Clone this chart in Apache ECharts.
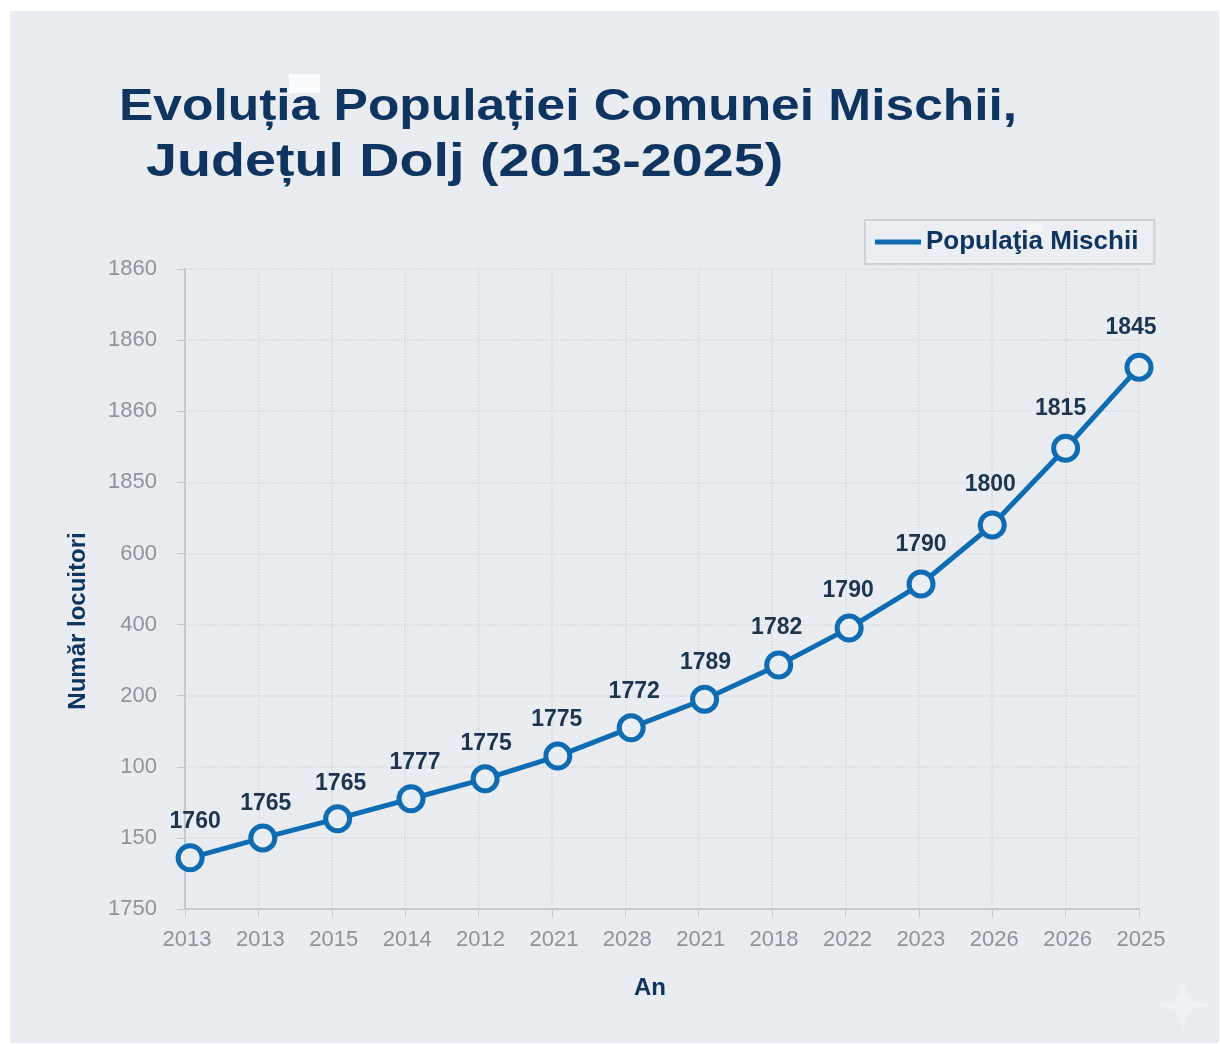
<!DOCTYPE html>
<html>
<head>
<meta charset="utf-8">
<style>html,body{margin:0;padding:0;background:#fff}#c{width:1220px;height:1044px}</style>
<script src="https://cdn.jsdelivr.net/npm/echarts@6/dist/echarts.min.js"></script>
</head>
<body>
<div id="c"></div>
<script>
const FONT = '"Liberation Sans", Arial, sans-serif';
const titleLine1 = 'Evoluția Populației Comunei Mischii,';
const titleLine2 = 'Județul Dolj (2013-2025)';
const yearLabels = ['2013','2013','2015','2014','2012','2021','2028','2021','2018','2022','2023','2026','2026','2025'];
const yTickLabels = ['1750','150','100','200','400','600','1850','1860','1860','1860'];
const pointLabels = ['1760','1765','1765','1777','1775','1775','1772','1789','1782','1790','1790','1800','1815','1845'];
const xSlots = [0.07,1.06,2.08,3.08,4.09,5.08,6.08,7.08,8.09,9.05,10.03,11.0,12.0,13.0];
const heights = [0.72,1.0,1.27,1.55,1.83,2.15,2.55,2.95,3.43,3.95,4.57,5.40,6.48,7.62];

const labelNudgeX = [5,3,3,4,1,-1,3,1,-2,-1,0,-2,-5,-8];
const labelNudgeY = [3,5,4,3,4,3,3,2,2,2,0,-1,-1,0];

const NAVY = '#0f3460', INK = '#1e3550', BLUE = '#0f6cb2', GREY = '#8f949b', GRID = '#d5d9de', AXIS = '#c4c9cf';
const chart = echarts.init(document.getElementById('c'), null, {renderer: 'canvas'});
chart.setOption({
  animation: false,
  backgroundColor: '#ffffff',
  graphic: [
    {type: 'rect', z: -10, shape: {x: 10, y: 11, width: 1209, height: 1032}, style: {fill: '#e9ecf1'}},
    {type: 'rect', z: -9, shape: {x: 289, y: 74, width: 31, height: 19}, style: {fill: '#fbfcfd'}},
    {type: 'polygon', z: -9, shape: {points: [[1183,979],[1187,995],[1193,1001],[1211,1005],[1193,1009],[1187,1015],[1183,1031],[1179,1015],[1173,1009],[1155,1005],[1173,1001],[1179,995]]}, style: {fill: '#eff2f5'}},
    {type: 'text', z: 5, x: 119, y: 86, scaleX: 1.17, scaleY: 1,
      style: {text: titleLine1, fontFamily: FONT, fontSize: 44, fontWeight: 'bold', fill: NAVY}},
    {type: 'text', z: 5, x: 146, y: 140, scaleX: 1.21, scaleY: 1,
      style: {text: titleLine2, fontFamily: FONT, fontSize: 46, fontWeight: 'bold', fill: NAVY}},
    {type: 'rect', z: 20, shape: {x: 1027, y: 223, width: 15, height: 9}, style: {fill: '#f8f9fb', opacity: 0.7}}
  ],
  legend: {
    left: 865, top: 220, padding: [9, 16, 9, 10],
    borderColor: '#cdd1d6', borderWidth: 2, backgroundColor: '#ebeef2',
    icon: 'rect', itemWidth: 46, itemHeight: 5, selectedMode: false,
    itemStyle: {color: BLUE, borderWidth: 0},
    textStyle: {fontFamily: FONT, fontSize: 26, fontWeight: 'bold', color: NAVY},
    data: ['Populaţia Mischii']
  },
  grid: {left: 185, right: 81, top: 269, bottom: 135, outerBoundsMode: 'none', containLabel: false},
  xAxis: {
    type: 'value', min: 0, max: 13, interval: 1,
    name: 'An', nameLocation: 'middle', nameGap: 67,
    nameTextStyle: {fontFamily: FONT, fontSize: 24, fontWeight: 'bold', color: NAVY, padding: [0, 24, 0, 0]},
    axisLine: {onZero: false, lineStyle: {color: AXIS, width: 2}},
    axisTick: {show: true, length: 8, lineStyle: {color: AXIS, width: 1}},
    axisLabel: {fontFamily: FONT, fontSize: 22, color: GREY, margin: 20, padding: [0, 0, 0, 4], formatter: v => yearLabels[v]},
    splitLine: {show: true, lineStyle: {color: GRID, type: 'dotted', width: 1.5}}
  },
  yAxis: {
    type: 'value', min: 0, max: 9, interval: 1,
    name: 'Număr locuitori', nameLocation: 'middle', nameGap: 95,
    nameTextStyle: {fontFamily: FONT, fontSize: 24, fontWeight: 'bold', color: NAVY, padding: [0, 64, 0, 0]},
    axisLine: {show: true, onZero: false, lineStyle: {color: AXIS, width: 2}},
    axisTick: {show: true, length: 8, lineStyle: {color: AXIS, width: 1}},
    axisLabel: {fontFamily: FONT, fontSize: 22, color: GREY, margin: 28, padding: [2, 0, 0, 0], formatter: v => yTickLabels[v]},
    splitLine: {show: true, lineStyle: {color: GRID, type: 'dotted', width: 1.5}}
  },
  series: [{
    name: 'Populaţia Mischii',
    type: 'line',
    clip: false,
    data: xSlots.map((x, i) => ({
      value: [x, heights[i]],
      label: {offset: [labelNudgeX[i], labelNudgeY[i]]}
    })),
    lineStyle: {color: BLUE, width: 5},
    itemStyle: {color: '#e9eef3', borderColor: BLUE, borderWidth: 5, opacity: 1},
    symbol: 'circle', symbolSize: 24, showSymbol: true,
    label: {
      show: true, position: 'top', distance: 13,
      fontFamily: FONT, fontSize: 23, fontWeight: 'bold', color: INK,
      formatter: p => pointLabels[p.dataIndex]
    }
  }]
});
</script>
</body>
</html>
